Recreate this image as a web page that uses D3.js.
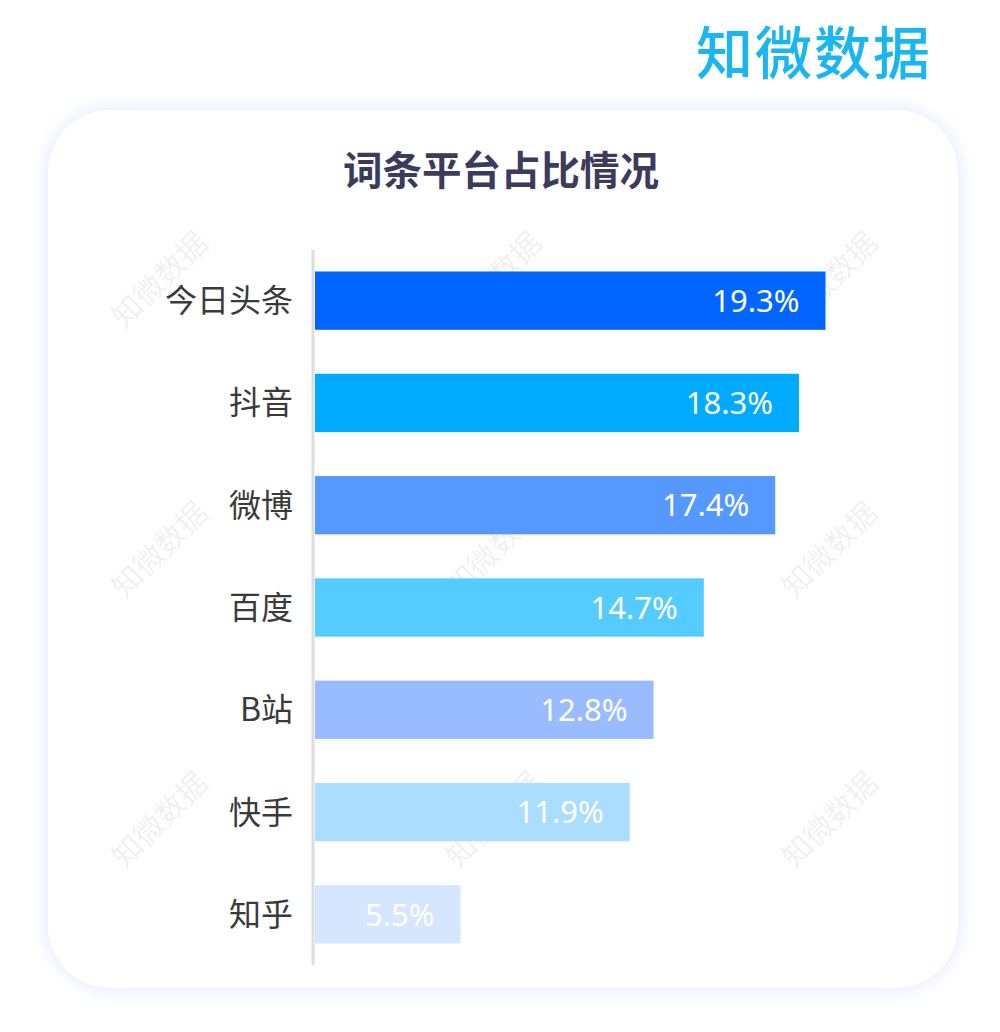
<!DOCTYPE html>
<html><head><meta charset="utf-8">
<script src="https://cdn.jsdelivr.net/npm/d3@7"></script>
<style>body{margin:0;background:#fff;}svg{display:block;}</style>
</head><body>
<svg id="c" width="1000" height="1032"></svg>
<script>
const categories = ["今日头条","抖音","微博","百度","B站","快手","知乎"];
const values = [19.3,18.3,17.4,14.7,12.8,11.9,5.5];
const colors = ["#0066FF","#00AAFF","#5599FF","#55CCFF","#99BBFF","#AADDFF","#D6E6FF"];
const title = "词条平台占比情况";
const brand = "知微数据";

const svg = d3.select("#c");
const defs = svg.append("defs");
const f = defs.append("filter").attr("id","sh").attr("x","-10%").attr("y","-10%").attr("width","120%").attr("height","120%");
f.append("feGaussianBlur").attr("in","SourceAlpha").attr("stdDeviation",9).attr("result","b");
f.append("feFlood").attr("flood-color","#dbe6fb").attr("result","c");
f.append("feComposite").attr("in","c").attr("in2","b").attr("operator","in").attr("result","s");
const m = f.append("feMerge"); m.append("feMergeNode").attr("in","s"); m.append("feMergeNode").attr("in","SourceGraphic");

// brand
svg.append("text").attr("x",932).attr("y",74).attr("text-anchor","end")
  .attr("font-family","Noto Sans CJK SC").attr("font-size",57).attr("font-weight",500)
  .attr("fill","#1AB6F2").attr("letter-spacing",2).text(brand);

// card
svg.append("rect").attr("x",48).attr("y",110).attr("width",910).attr("height",878)
  .attr("rx",62).attr("fill","#fff").attr("filter","url(#sh)");

// watermarks
const wmX = [158,492,828], wmY = [278,548,818];
wmY.forEach(y=>wmX.forEach(x=>{
  svg.append("text").attr("transform",`translate(${x},${y}) rotate(-45)`)
    .attr("text-anchor","middle").attr("dominant-baseline","central")
    .attr("font-family","Noto Sans CJK SC").attr("font-size",30)
    .attr("fill","#000").attr("fill-opacity",0.07).text(brand);
}));

// title
svg.append("text").attr("x",501).attr("y",185).attr("text-anchor","middle")
  .attr("font-family","Noto Sans CJK SC").attr("font-size",39.5).attr("font-weight",700)
  .attr("fill","#3D3B5C").text(title);

const x = d3.scaleLinear().domain([0,20]).range([315,844]);
const y = d3.scaleBand().domain(categories).range([250,965]).paddingInner(0.43).paddingOuter(0.21);

const g = svg.append("g");
g.selectAll("rect.bar").data(values).join("rect").attr("class","bar")
  .attr("x",x(0)).attr("y",(d,i)=>y(categories[i]))
  .attr("width",d=>x(d)-x(0)).attr("height",y.bandwidth())
  .attr("fill",(d,i)=>colors[i]);

// axis line
g.append("line").attr("x1",313).attr("x2",313).attr("y1",250).attr("y2",965)
  .attr("stroke","#dddddd").attr("stroke-width",3);

g.selectAll("text.lab").data(categories).join("text").attr("class","lab")
  .attr("x",293).attr("y",d=>y(d)+y.bandwidth()/2).attr("dy","0.36em")
  .attr("text-anchor","end").attr("font-family","Noto Sans CJK SC").attr("font-size",32)
  .attr("fill","#3a3a3a").text(d=>d);

g.selectAll("text.val").data(values).join("text").attr("class","val")
  .attr("x",d=>x(d)-26).attr("y",(d,i)=>y(categories[i])+y.bandwidth()/2).attr("dy","0.36em")
  .attr("text-anchor","end").attr("font-family","Noto Sans").attr("font-size",31)
  .attr("fill","#fff").text(d=>d.toFixed(1)+"%");
</script>
</body></html>
